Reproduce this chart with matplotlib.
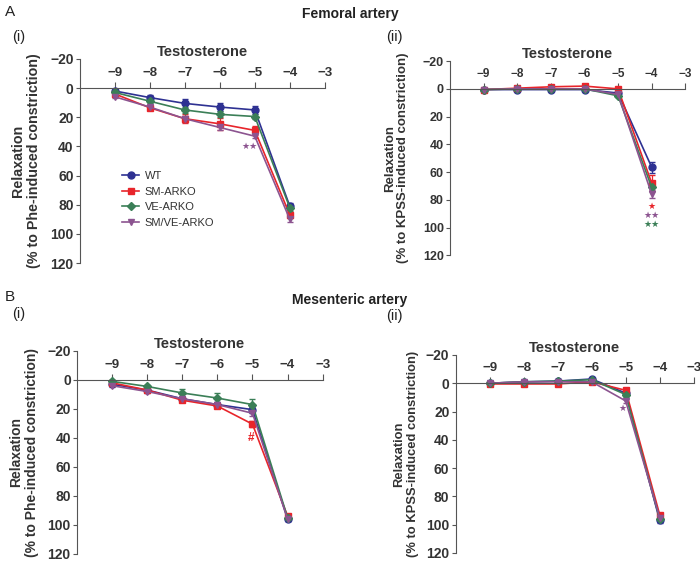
import matplotlib
matplotlib.use("Agg")
import matplotlib.pyplot as plt
from matplotlib.lines import Line2D

plt.rcParams['font.family'] = ['Liberation Sans', 'DejaVu Sans']

conc = [-9, -8, -7, -6, -5, -4]
groups = ['WT', 'SM-ARKO', 'VE-ARKO', 'SM/VE-ARKO']
colors = ['#2e3192', '#e8252b', '#3b7f57', '#8c5490']
markers = ['o', 's', 'D', 'v']

# A(i) femoral, Phe
fa_phe = {
    'WT': [2, 6.5, 10.5, 13, 15, 81],
    'SM-ARKO': [4, 13.5, 21, 24.5, 29, 87],
    'VE-ARKO': [3, 9, 15, 18, 19.5, 82],
    'SM/VE-ARKO': [6, 13, 21, 27, 33, 90],
}
fa_phe_err = {
    'WT': [1, 1.5, 3, 3, 3, 2],
    'SM-ARKO': [1, 1.5, 3, 4, 3, 2],
    'VE-ARKO': [1, 1.5, 2, 2, 1.5, 2],
    'SM/VE-ARKO': [1, 1.5, 2, 2, 1.5, 2],
}
# A(ii) femoral, KPSS
fa_kpss = {
    'WT': [0.5, 0.5, 0.5, 0.5, 3, 56.5],
    'SM-ARKO': [0.5, -0.5, -1.5, -2, 0, 68],
    'VE-ARKO': [0.5, 0, 0, 0, 5, 71],
    'SM/VE-ARKO': [0.5, 0, 0, 0, 4, 76],
}
fa_kpss_err = {
    'WT': [0.5, 0.5, 0.5, 0.5, 1, 4],
    'SM-ARKO': [0.5, 0.5, 0.5, 0.5, 1, 6],
    'VE-ARKO': [0.5, 0.5, 0.5, 0.5, 1, 3],
    'SM/VE-ARKO': [0.5, 0.5, 0.5, 0.5, 1, 3],
}
# B(i) mesenteric, Phe
me_phe = {
    'WT': [3, 7, 13, 17, 20.5, 96],
    'SM-ARKO': [2, 7, 14, 18, 30.5, 94],
    'VE-ARKO': [1, 4.5, 9, 12.5, 17, 95],
    'SM/VE-ARKO': [4, 8, 13, 17, 23, 96],
}
me_phe_err = {
    'WT': [1, 1, 1.5, 2, 2, 1],
    'SM-ARKO': [1, 1, 1.5, 1.5, 2, 1],
    'VE-ARKO': [1, 1, 3, 3.5, 4, 1],
    'SM/VE-ARKO': [1, 1, 1.5, 2, 2, 1],
}
# B(ii) mesenteric, KPSS
me_kpss = {
    'WT': [0, -1, -1.5, -3, 7, 97],
    'SM-ARKO': [0.5, 0.5, 0.5, -1, 5, 93],
    'VE-ARKO': [0, -1, -1.5, -2.5, 8, 96],
    'SM/VE-ARKO': [0, -1, -1, -1, 12.5, 95],
}
me_kpss_err = {g: [0.5, 0.5, 0.5, 0.5, 1.5, 1.5] for g in groups}

fig = plt.figure(figsize=(7, 5.61), dpi=100)

def panel(rect, data, err, ylabel, lab_size, lab_x, tick_size=10, legend=False):
    ax = fig.add_axes(rect)
    for g, c, m in zip(groups, colors, markers):
        ms = 4 if m == 'D' else 5
        ax.errorbar(conc, data[g], yerr=err[g], color=c, marker=m, ms=ms,
                    lw=1.2, capsize=2.5, elinewidth=0.9, label=g)
    ax.set_xlim(-10, -3)
    ax.set_ylim(120, -20)
    ax.set_yticks([-20, 0, 20, 40, 60, 80, 100, 120])
    ax.set_xticks([-9, -8, -7, -6, -5, -4, -3])
    ax.spines['right'].set_visible(False)
    ax.spines['bottom'].set_visible(False)
    ax.spines['top'].set_position(('data', 0))
    ax.spines['top'].set_color('#555555')
    ax.spines['left'].set_color('#555555')
    ax.xaxis.tick_top()
    ax.tick_params(axis='x', direction='out', length=4, pad=2.5, colors='#555555', labelcolor='#333333')
    ax.tick_params(axis='y', direction='out', length=3, pad=1.5, colors='#555555', labelcolor='#333333')
    for lab in ax.get_yticklabels():
        lab.set_fontweight('bold')
        lab.set_fontsize(tick_size)
    for lab in ax.get_xticklabels():
        lab.set_fontweight('bold')
        lab.set_fontsize(tick_size - 0.5)
    ax.set_ylabel(ylabel, fontsize=lab_size, fontweight='bold', color='#333333', linespacing=1.15)
    ax.yaxis.set_label_coords(lab_x, 0.5)
    ax.text(0.5, 1.035, 'Testosterone', transform=ax.transAxes, ha='center', va='center',
            fontsize=10.5, fontweight='bold', color='#333333')
    if legend:
        handles = [Line2D([], [], color=c, marker=m, ms=4 if m == 'D' else 5, lw=1.2)
                   for c, m in zip(colors, markers)]
        ax.legend(handles, groups, loc='upper left', bbox_to_anchor=(0.13, 0.5), frameon=False,
                  fontsize=8, handlelength=1.6, handletextpad=0.5, labelspacing=0.5,
                  labelcolor='#333333')
    return ax

ax1 = panel([0.114, 0.531, 0.35, 0.364], fa_phe, fa_phe_err,
            'Relaxation\n(% to Phe-induced constriction)', 10.3, -0.159, legend=True)
ax2 = panel([0.643, 0.545, 0.336, 0.346], fa_kpss, fa_kpss_err,
            'Relaxation\n(% to KPSS-induced constriction)', 9.5, -0.174, tick_size=9)
ax3 = panel([0.110, 0.0125, 0.351, 0.362], me_phe, me_phe_err,
            'Relaxation\n(% to Phe-induced constriction)', 10, -0.154)
ax4 = panel([0.651, 0.0143, 0.340, 0.353], me_kpss, me_kpss_err,
            'Relaxation\n(% to KPSS-induced constriction)', 9.4, -0.155)

# significance marks
star = dict(fontsize=6.5, ha='center', va='center', family=['DejaVu Sans'])
ax1.text(-5.15, 40, '★★', color=colors[3], **star)
ax2.text(-4, 84.5, '★', color=colors[1], **star)
ax2.text(-4, 91, '★★', color=colors[3], **star)
ax2.text(-4, 97.5, '★★', color=colors[2], **star)
ax3.text(-5.05, 40, '#', color=colors[1], fontsize=8.5, fontweight='bold', ha='center', va='center')
ax4.text(-5.08, 18, '★', color=colors[3], **star)

# panel titles
fig.text(0.5, 1 - 14 / 561, 'Femoral artery', ha='center', va='center', fontsize=10, fontweight='bold', color='#222222')
fig.text(0.5, 1 - 300 / 561, 'Mesenteric artery', ha='center', va='center', fontsize=10, fontweight='bold', color='#222222')
fig.text(5 / 700, 1 - 12 / 561, 'A', ha='left', va='center', fontsize=11, color='#222222')
fig.text(5 / 700, 1 - 297 / 561, 'B', ha='left', va='center', fontsize=11, color='#222222')
fig.text(12 / 700, 1 - 37 / 561, '(i)', ha='left', va='center', fontsize=10.5, color='#222222')
fig.text(386 / 700, 1 - 37 / 561, '(ii)', ha='left', va='center', fontsize=10.5, color='#222222')
fig.text(12 / 700, 1 - 314 / 561, '(i)', ha='left', va='center', fontsize=10.5, color='#222222')
fig.text(386 / 700, 1 - 316 / 561, '(ii)', ha='left', va='center', fontsize=10.5, color='#222222')

fig.savefig('out.png', dpi=100)
